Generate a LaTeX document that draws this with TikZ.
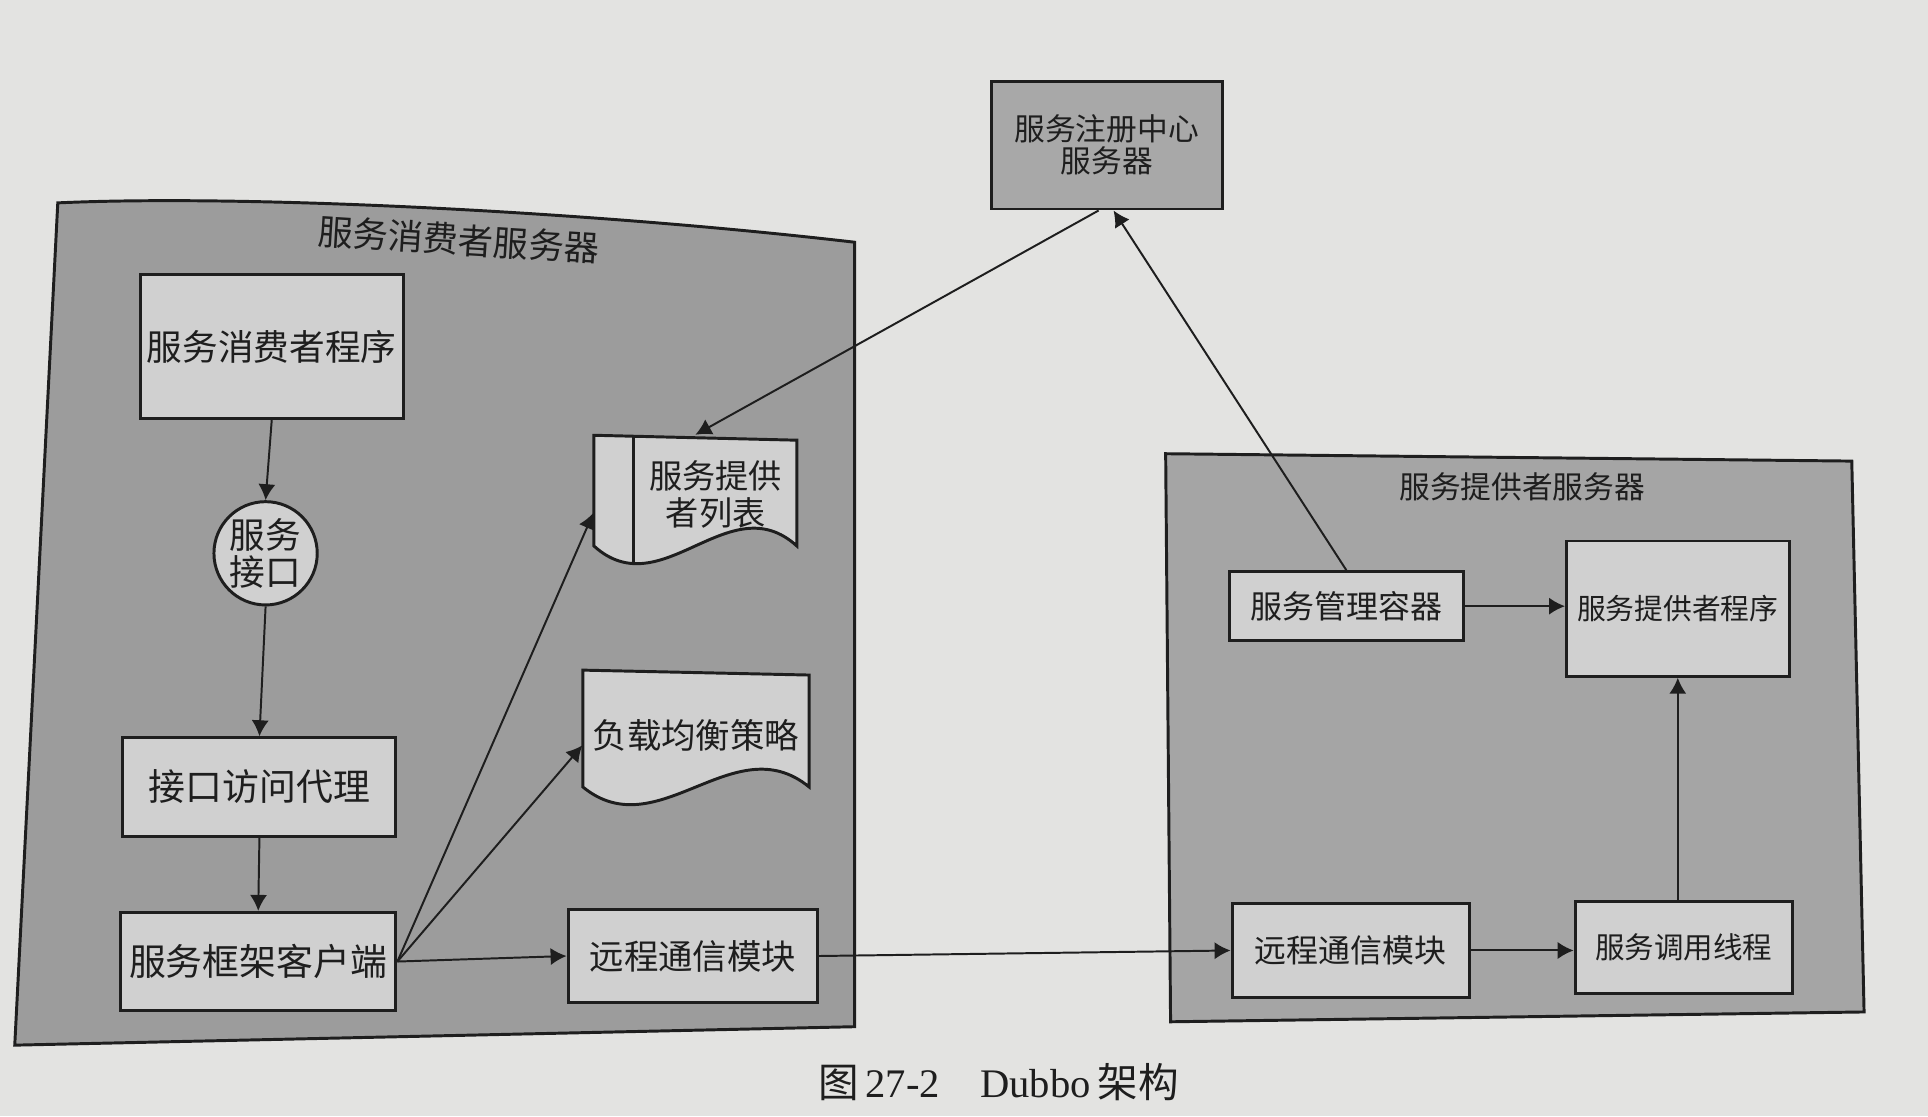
\documentclass[tikz,border=0pt]{standalone}
\usepackage{fontspec}
\setmainfont{Liberation Serif}
\newfontfamily\cjk{Noto Sans CJK SC}
\usetikzlibrary{arrows.meta,calc}
\definecolor{paper}{HTML}{E3E3E1}
\definecolor{contA}{HTML}{9C9C9C}
\definecolor{contB}{HTML}{A5A5A5}
\definecolor{regfill}{HTML}{A8A8A8}
\definecolor{boxfill}{HTML}{D0D0D0}
\definecolor{ink}{HTML}{1E1E1E}
\newcommand{\fs}[1]{\fontsize{#1}{#1}\selectfont}
\begin{document}
\begin{tikzpicture}[x=0.5pt,y=-0.5pt,
  box/.style={draw=ink, line width=1.2pt, fill=boxfill, inner sep=0pt, align=center, text=ink},
  cont/.style={draw=ink, line width=1.2pt},
  doc/.style={draw=ink, line width=1.2pt, fill=boxfill},
  ghost/.style={inner sep=0pt, align=center, text=ink},
  arr/.style={draw=ink, line width=0.8pt, -{Latex[length=6.5pt,width=7pt]}}]
\fill[paper] (0,0) rectangle (1568,908);
\useasboundingbox (0,0) rectangle (1568,908);

% containers
\draw[cont, fill=contA] (47,165) .. controls (200,158) and (480,172) .. (695,197) -- (695,835) -- (12,850) -- cycle;
\node[ghost, font=\cjk\fs{14.3}, rotate=-3.5] (ctitle) at (373,195) {服务消费者服务器};
\draw[cont, fill=contB] (948,369) -- (1506,375) -- (1516,823) -- (952,831) -- cycle;
\node[ghost, font=\cjk\fs{12.5}] (ptitle) at (1238,396) {服务提供者服务器};

% registry
\node[box, fill=regfill, minimum width=94pt, minimum height=52pt, font=\cjk\fontsize{12.5}{13}\selectfont] (reg) at (900,118) {服务注册中心\\服务器};

% consumer side
\node[box, minimum width=107pt, minimum height=58.5pt, font=\cjk\fs{14.5}] (cprog) at (221,282) {服务消费者程序};
\node[box, circle, minimum size=42pt, font=\cjk\fontsize{14.5}{15}\selectfont] (iface) at (216,450) {服务\\接口};
\node[box, minimum width=111pt, minimum height=40pt, font=\cjk\fs{15}] (proxy) at (211,640) {接口访问代理};
\node[box, minimum width=112pt, minimum height=40pt, font=\cjk\fs{15}] (client) at (210,782) {服务框架客户端};
\node[box, minimum width=101.5pt, minimum height=37.5pt, font=\cjk\fs{14}] (cremote) at (563.5,777.5) {远程通信模块};

% provider list document
\path[doc] (483,354) -- (648,358) -- (648,444) .. controls (593,394) and (538,494) .. (483,444) -- cycle;
\begin{scope}
  \clip (483,354) -- (648,358) -- (648,444) .. controls (593,394) and (538,494) .. (483,444) -- cycle;
  \draw[ink, line width=1.2pt] (515,340) -- (515,500);
\end{scope}
\node[ghost, minimum width=82.5pt, minimum height=45.5pt] (plist) at (565.5,399.5) {};
\node[ghost, font=\cjk\fontsize{13.5}{15}\selectfont] (plisttxt) at (582,402) {服务提供\\者列表};

% load balancing document
\path[doc] (474,545) -- (658,549) -- (658,640) .. controls (597,590) and (535,690) .. (474,640) -- cycle;
\node[ghost, minimum width=92pt, minimum height=51.5pt] (lb) at (566,596.5) {};
\node[ghost, font=\cjk\fs{14}] (lbtxt) at (566,598) {负载均衡策略};

% provider side
\node[box, minimum width=95pt, minimum height=28pt, font=\cjk\fs{13}] (pmgr) at (1095,493) {服务管理容器};
\node[box, minimum width=90.5pt, minimum height=55pt, font=\cjk\fs{11.7}] (pprog) at (1364.5,495) {服务提供者程序};
\node[box, minimum width=96.5pt, minimum height=38pt, font=\cjk\fs{13}] (premote) at (1098.5,773) {远程通信模块};
\node[box, minimum width=88.5pt, minimum height=37.5pt, font=\cjk\fs{12}] (pthread) at (1369.5,770.5) {服务调用线程};

% arrows
\draw[arr] (cprog.south) -- (iface.north);
\draw[arr] (iface.south) -- (proxy.north);
\draw[arr] (proxy.south) -- (client.north);
\draw[arr] (client.east) -- (plist.192);
\draw[arr] (client.east) -- (lb.186);
\draw[arr] (client.east) -- (cremote.west);
\draw[arr] (cremote.east) -- (premote.west);
\draw[arr] (reg.263) -- (plist.north);
\draw[arr] (pmgr.north) -- (reg.276);
\draw[arr] (pmgr.east) -- (pprog.west |- pmgr.east);
\draw[arr] (premote.east) -- (pthread.west |- premote.east);
\draw[arr] (pthread.north -| pprog.south) -- (pprog.south);

% caption
\node[ghost, font=\fs{16.5}] (caption) at (812,880) {{\cjk 图}\,27-2\hspace{1em}Dubbo\,{\cjk 架构}};
\end{tikzpicture}
\end{document}
